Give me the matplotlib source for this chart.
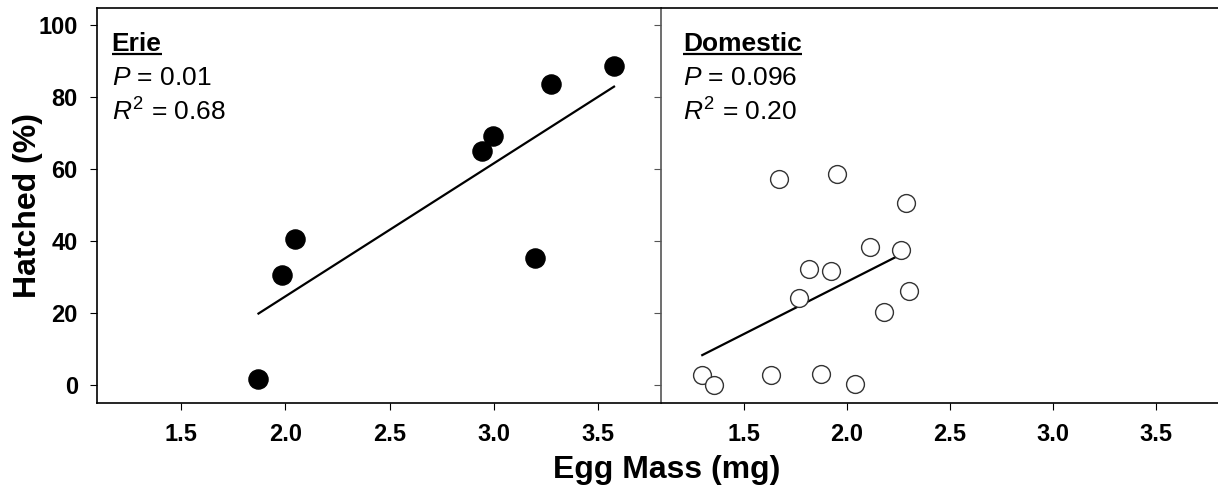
import matplotlib
matplotlib.use('Agg')
import matplotlib.pyplot as plt
import numpy as np

plt.rcParams['font.family'] = ['Liberation Sans', 'DejaVu Sans']
plt.rcParams['mathtext.fontset'] = 'custom'
plt.rcParams['mathtext.rm'] = 'Liberation Sans'
plt.rcParams['mathtext.it'] = 'Liberation Sans:italic'
plt.rcParams['mathtext.bf'] = 'Liberation Sans:bold'

# Erie (закрашенные точки)
erie_mass = [1.872, 1.984, 2.047, 2.944, 2.996, 3.196, 3.271, 3.575]
erie_hatched = [1.7, 30.7, 40.6, 65.0, 69.4, 35.5, 83.8, 88.7]

# Domestic (пустые кружки)
dom_mass = [1.300, 1.359, 1.631, 1.876, 2.040, 1.672, 1.955, 2.288,
            2.112, 2.262, 1.818, 1.926, 1.768, 2.302, 2.182]
dom_hatched = [2.8, 0.2, 3.0, 3.2, 0.5, 57.2, 58.7, 50.6,
               38.5, 37.6, 32.3, 31.7, 24.3, 26.2, 20.4]

panel_names = ['Erie', 'Domestic']
p_labels = ['0.01', '0.096']
r2_labels = ['0.68', '0.20']

x_ticks = [1.5, 2.0, 2.5, 3.0, 3.5]
y_ticks = [0, 20, 40, 60, 80, 100]

W, H = 1218, 492
fig = plt.figure(figsize=(W / 100, H / 100), dpi=100)

bottom = (H - 403.3) / H
height = (403.3 - 7.5) / H
ax1 = fig.add_axes([97.3 / W, bottom, (661 - 97.3) / W, height])
ax2 = fig.add_axes([661 / W, bottom, (W - 661) / W + 0.01, height])

panels = [
    (ax1, erie_mass, erie_hatched, 'black', 190, 3.8),
    (ax2, dom_mass, dom_hatched, 'white', 165, 3.8 + 0.01 * W / 208.5),
]

for i, (ax, xs, ys, face, size, xmax) in enumerate(panels):
    ax.set_xlim(1.1, xmax)
    ax.set_ylim(-5, 105)

    # линия регрессии
    k, b = np.polyfit(xs, ys, 1)
    xl = np.array([min(xs), max(xs)])
    ax.plot(xl, k * xl + b, color='black', lw=1.6, zorder=2)

    edge = 'black' if face == 'black' else '#333333'
    ax.scatter(xs, ys, s=size, facecolor=face, edgecolor=edge,
               linewidths=1.0, zorder=3)

    ax.set_xticks(x_ticks)
    ax.set_xticklabels([f'{t:.1f}' for t in x_ticks])
    ax.set_yticks(y_ticks)
    ax.tick_params(direction='out', length=5, width=0.8, labelsize=17, pad=9)
    for lab in ax.get_xticklabels() + ax.get_yticklabels():
        lab.set_fontweight('bold')

    for side in ['top', 'bottom', 'left', 'right']:
        ax.spines[side].set_linewidth(1.2)

    # подписи в углу панели
    tx = 1.169 if i == 0 else 1.207
    t = ax.text(tx, 92.9, panel_names[i], fontsize=19, fontweight='bold',
                va='baseline', ha='left')
    ax.text(tx, 83.5, r'$\mathit{P}$ = ' + p_labels[i], fontsize=19,
            va='baseline', ha='left')
    ax.text(tx, 73.6, r'$\mathit{R}^2$ = ' + r2_labels[i], fontsize=19,
            va='baseline', ha='left')
    ax._title_text = t

ax2.spines['right'].set_visible(False)
ax2.spines['left'].set_color('#555555')
ax2.tick_params(axis='y', labelleft=False, color='#555555')
ax1.spines['right'].set_visible(False)

ax1.set_ylabel('Hatched (%)', fontsize=23, fontweight='bold')
ax1.yaxis.set_label_coords(-0.097, 0.5)
fig.text(667 / W, (H - 478) / H, 'Egg Mass (mg)', fontsize=23,
         fontweight='bold', ha='center', va='baseline')

# подчёркивание заголовков панелей
fig.canvas.draw()
renderer = fig.canvas.get_renderer()
for ax in (ax1, ax2):
    bb = ax._title_text.get_window_extent(renderer)
    inv = ax.transData.inverted()
    x0, _ = inv.transform((bb.x0, 0))
    x1, _ = inv.transform((bb.x1, 0))
    ax.plot([x0, x1], [92.9 - 0.8, 92.9 - 0.8], color='black', lw=1.6,
            clip_on=False, solid_capstyle='butt')

fig.savefig('out.png', dpi=100)
